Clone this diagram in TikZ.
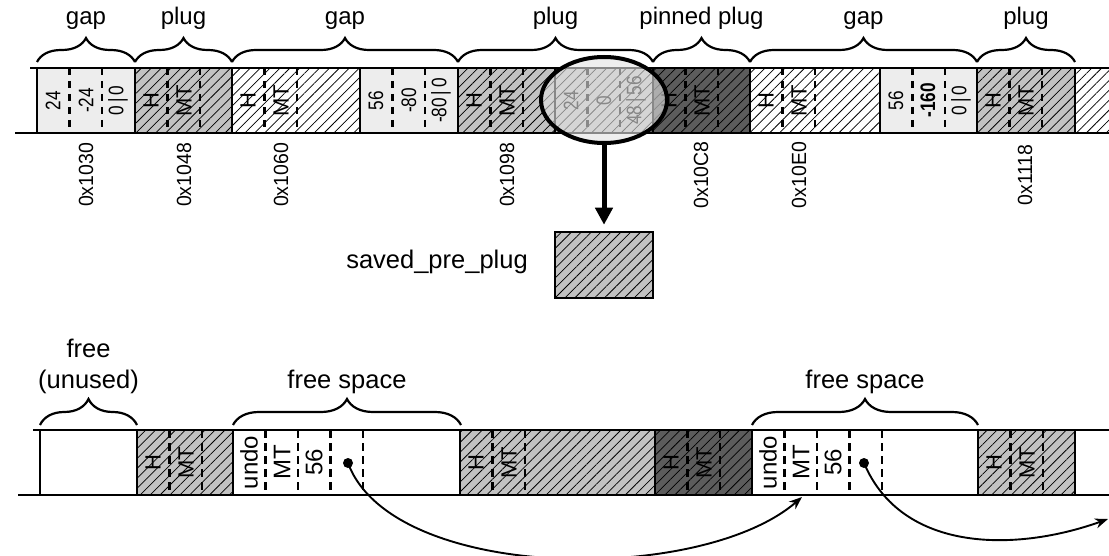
\documentclass[tikz,border=0pt]{standalone}
\usepackage{fontspec}
\setmainfont{Liberation Sans}
\usetikzlibrary{patterns.meta,decorations.pathreplacing,arrows.meta,shapes.geometric}
\definecolor{lightc}{gray}{0.93}
\definecolor{plugc}{gray}{0.76}
\definecolor{pinc}{gray}{0.36}
\newcommand\fs[1]{\fontsize{#1}{#1}\selectfont}
\newcommand\nar[1]{\scalebox{0.82}[1]{#1}}
\begin{document}
\begin{tikzpicture}[x=1pt,y=-1pt,
  hatch/.style={pattern={Lines[angle=45,distance=7pt,line width=0.75pt]},pattern color=black},
  border/.style={line width=2.4pt},
  sep/.style={line width=2.2pt,dash pattern=on 7.5pt off 5.5pt},
  rot/.style={rotate=90,inner sep=0pt},
  brc/.style={decorate,decoration={brace,amplitude=24pt},line width=2.2pt},
  lbl/.style={font=\fs{24},anchor=base,inner sep=0pt},
  blbl/.style={font=\fs{25.5},anchor=base,inner sep=0pt},
  addr/.style={rot,font=\fs{20.5}},
  num/.style={rot,font=\fs{21}},
  hm/.style={rot,font=\fs{22}},
  bt/.style={rot,font=\fs{24}},
  dot/.style={circle,fill=black,inner sep=0pt,minimum size=10pt},
  link/.style={line width=1.9pt,-{Stealth[length=13pt,width=10pt]}}]
\useasboundingbox (0,0) rectangle (1109,556);

% ---------------- top strip ----------------
\fill[lightc] (37,68) rectangle (135,133);
\fill[plugc] (135,68) rectangle (232,133);
\path[hatch] (135,68) rectangle (232,133);
\path[hatch] (232,68) rectangle (360,133);
\fill[lightc] (360,68) rectangle (458,133);
\fill[plugc] (458,68) rectangle (653,133);
\path[hatch] (458,68) rectangle (653,133);
\fill[pinc] (653,68) rectangle (750,133);
\path[hatch] (653,68) rectangle (750,133);
\path[hatch] (750,68) rectangle (880,133);
\fill[lightc] (880,68) rectangle (977,133);
\fill[plugc] (977,68) rectangle (1075,133);
\path[hatch] (977,68) rectangle (1075,133);
\path[hatch] (1075,68) rectangle (1109,133);

\foreach \x in {37,360,555,880}{
  \draw[sep] (\x+32.5,68) -- (\x+32.5,133);
  \draw[sep] (\x+65,68) -- (\x+65,133);
}
\foreach \x/\n in {135/a,232/b,458/c,653/d,750/e,977/f}{
  \draw[sep] (\x+32.5,68) -- (\x+32.5,133);
  \draw[sep] (\x+65,68) -- (\x+65,133);
  \node[hm] (th\n) at (\x+16,100.5) {H};
  \node[hm] (tm\n) at (\x+49,100.5) {MT};
}
\draw[line width=1.5pt] (555,68) -- (555,133);
\foreach \x in {37,135,232,360,458,653,750,880,977,1075}{
  \draw[border] (\x,68) -- (\x,133);
}
\draw[border] (30,68) -- (1109,68);
\draw[border] (15,133) -- (1109,133);

\node[num] (g1a) at (53,100.5) {\nar{24}};
\node[num] (g1b) at (86,100.5) {\nar{-24}};
\node[num] (g1c) at (118,100.5) {\nar{0\,|\,0}};
\node[num] (g2a) at (376,100.5) {\nar{56}};
\node[num] (g2b) at (409,100.5) {\nar{-80}};
\node[num] (g2c) at (441,100.5) {\nar{-80\,|\,0}};
\node[num] (s1a) at (571,100.5) {\nar{24}};
\node[num] (s1b) at (604,100.5) {\nar{0}};
\node[num] (s1c) at (636,100.5) {\nar{48\,|\,56}};
\node[num] (g3a) at (896,100.5) {\nar{56}};
\node[num] (g3b) at (928,100.5) {\nar{\textbf{-160}}};
\node[num] (g3c) at (961,100.5) {\nar{0\,|\,0}};

% ellipse overlay
\node[ellipse,draw=black,line width=4pt,fill=gray!22,fill opacity=0.6,
      minimum width=126pt,minimum height=86pt,inner sep=0pt] (ell) at (604,100) {};

% addresses
\node[addr] (a1) at (86,175) {\scalebox{0.95}[1]{0x1030}};
\node[addr] (a2) at (184,175) {\scalebox{0.95}[1]{0x1048}};
\node[addr] (a3) at (281,175) {\scalebox{0.95}[1]{0x1060}};
\node[addr] (a4) at (507,175) {\scalebox{0.95}[1]{0x1098}};
\node[addr] (a5) at (701,175) {\scalebox{0.95}[1]{0x10C8}};
\node[addr] (a6) at (799,175) {\scalebox{0.95}[1]{0x10E0}};
\node[addr] (a7) at (1025,175) {\scalebox{0.95}[1]{0x1118}};

% top braces
\draw[brc] (37,62) -- (135,62);
\draw[brc] (135,62) -- (232,62);
\draw[brc] (232,62) -- (458,62);
\draw[brc] (458,62) -- (653,62);
\draw[brc] (653,62) -- (750,62);
\draw[brc] (750,62) -- (977,62);
\draw[brc] (977,62) -- (1075,62);
\node[lbl] (l1) at (86,25) {gap};
\node[lbl] (l2) at (183.5,25) {plug};
\node[lbl] (l3) at (345,25) {gap};
\node[lbl] (l4) at (555.5,25) {plug};
\node[lbl] (l5) at (701.5,25) {pinned plug};
\node[lbl] (l6) at (863.5,25) {gap};
\node[lbl] (l7) at (1026,25) {plug};

% saved pre plug
\node[draw=black,line width=2.5pt,preaction={fill=plugc},hatch,
      minimum width=98pt,minimum height=66pt,inner sep=0pt] (saved) at (604,265) {};
\node[blbl] (savedlbl) at (437,269) {saved\_pre\_plug};
\draw[line width=5pt,-{Triangle[length=17pt,width=17pt]},shorten >=6pt] (ell.south) -- (saved.north);

% ---------------- bottom strip ----------------
\fill[plugc] (137,430) rectangle (233,495);
\path[hatch] (137,430) rectangle (233,495);
\fill[plugc] (460,430) rectangle (655,495);
\path[hatch] (460,430) rectangle (655,495);
\fill[pinc] (655,430) rectangle (752,495);
\path[hatch] (655,430) rectangle (752,495);
\fill[plugc] (978,430) rectangle (1075,495);
\path[hatch] (978,430) rectangle (1075,495);

\foreach \x/\n in {137/a,460/b,655/c,978/d}{
  \draw[sep] (\x+32.5,430) -- (\x+32.5,495);
  \draw[sep] (\x+65,430) -- (\x+65,495);
  \node[hm] (bh\n) at (\x+16,462.5) {H};
  \node[hm] (bm\n) at (\x+49,462.5) {MT};
}
\foreach \x/\n in {233/a,752/b}{
  \foreach \k in {1,2,3,4}{
    \draw[sep] (\x+32.5*\k,430) -- (\x+32.5*\k,495);
  }
  \node[bt] (bu\n) at (\x+16,462.5) {undo};
  \node[bt] (bt\n) at (\x+49,462.5) {MT};
  \node[bt] (bs\n) at (\x+81,462.5) {56};
}
\foreach \x in {40,137,233,460,655,752,978,1075}{
  \draw[border] (\x,430) -- (\x,495);
}
\draw[border] (33,430) -- (1109,430);
\draw[border] (18,495) -- (1109,495);

% bottom braces
\draw[brc,decoration={amplitude=26pt}] (40,425) -- (137,425);
\draw[brc,decoration={amplitude=26pt}] (233,425) -- (461,425);
\draw[brc,decoration={amplitude=26pt}] (752,425) -- (978,425);
\node[blbl] (f1) at (88.5,357) {free};
\node[blbl] (f2) at (88.5,388) {(unused)};
\node[blbl] (f3) at (347,388) {free space};
\node[blbl] (f4) at (865,388) {free space};

% links
\node[dot] (d1) at (348,463) {};
\node[dot] (d2) at (864,463) {};
\coordinate (e1) at (802,497);
\coordinate (e2) at (1108,519);
\draw[link] (d1.center) .. controls (392,582) and (700,585) .. (e1);
\draw[link] (d2.center) .. controls (902,553) and (1016,552) .. (e2);
\end{tikzpicture}
\end{document}
